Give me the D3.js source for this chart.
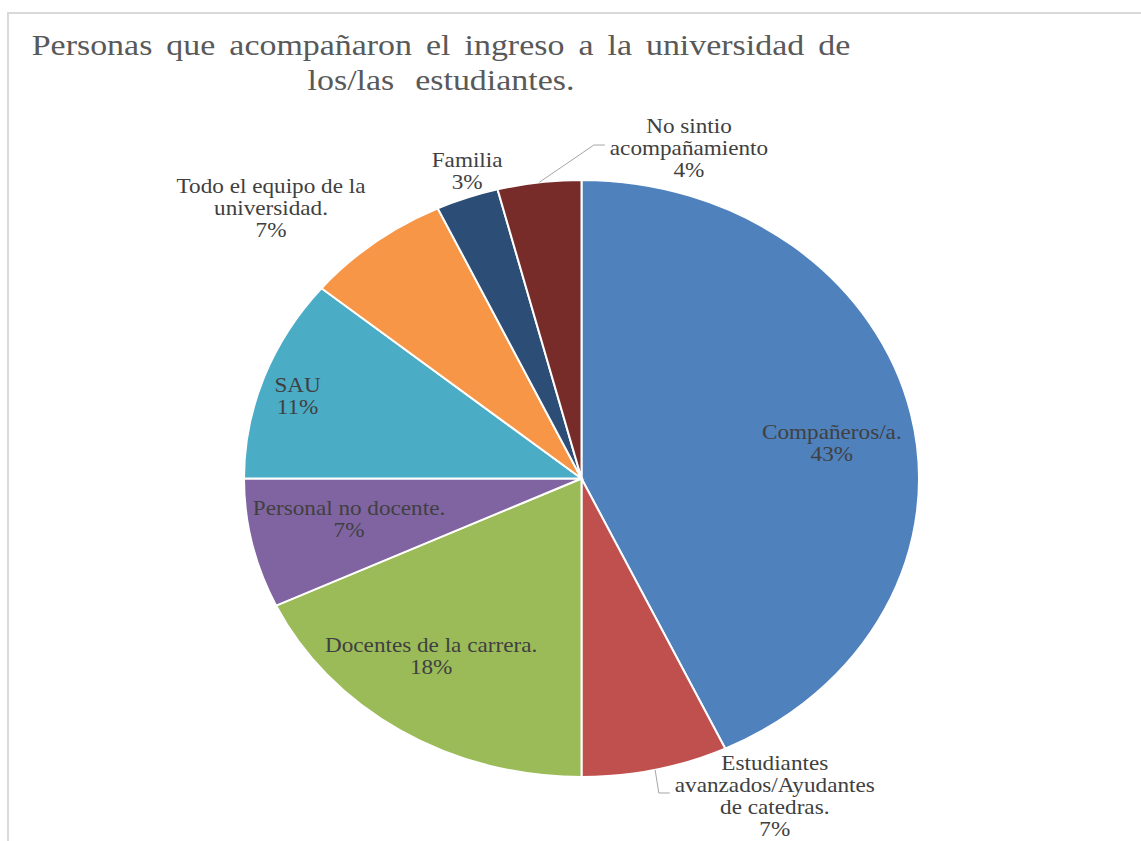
<!DOCTYPE html>
<html>
<head>
<meta charset="utf-8">
<script src="https://cdn.jsdelivr.net/npm/d3@7"></script>
<style>
  html, body { margin: 0; padding: 0; background: #ffffff; }
  svg { display: block; }
  svg text { font-family: "Liberation Serif", "Times New Roman", Times, "DejaVu Serif", serif; }
</style>
</head>
<body>
<svg id="chart" width="1141" height="841"></svg>
<script>
// ---- data ----
const categories = [
  "Compañeros/a.",
  "Estudiantes avanzados/Ayudantes de catedras.",
  "Docentes de la carrera.",
  "Personal no docente.",
  "SAU",
  "Todo el equipo de la universidad.",
  "Familia",
  "No sintio acompañamiento"
];
const values = [43, 7, 18, 7, 11, 7, 3, 4];
const colors = ["#4F81BD", "#C0504D", "#9BBB59", "#8064A2", "#4BACC6", "#F79646", "#2C4D75", "#772C2A"];
const labelLines = [
  ["Compañeros/a."],
  ["Estudiantes", "avanzados/Ayudantes", "de catedras."],
  ["Docentes de la carrera."],
  ["Personal no docente."],
  ["SAU"],
  ["Todo el equipo de la", "universidad."],
  ["Familia"],
  ["No sintio", "acompañamiento"]
];
const titleLines = ["Personas que acompañaron el ingreso a la universidad de", "los/las estudiantes."];

// ---- layout ----
const sx = 1.1307;           // horizontal stretch of the original picture
const cx = 581.5, cy = 478.5, R = 298.5;
const labelPlace = [[0.751, 81.0], [1.208, 151.7], [0.742, 216.9], [0.702, 258.9],
                    [0.885, 288.1], [1.292, 314.6], [1.085, 341.8], [1.152, 16.05]];
const hasLeader = [false, true, false, false, false, false, false, true];
const lineH = 22;

const svg = d3.select("#chart");

// frame (only top and left edges visible)
svg.append("rect")
  .attr("x", 8).attr("y", 13).attr("width", 1400).attr("height", 1000)
  .attr("fill", "none").attr("stroke", "#d9d9d9").attr("stroke-width", 2);

// title
const tg = svg.append("g").attr("transform", `scale(${sx},1)`);
const titleSpacing = [4.9, 11];
titleLines.forEach((t, i) => {
  tg.append("text")
    .attr("x", 441 / sx).attr("y", 55 + i * 35)
    .attr("text-anchor", "middle")
    .attr("font-size", 30)
    .attr("word-spacing", titleSpacing[i])
    .attr("fill", "#595959")
    .text(t);
});

// pie
const g = svg.append("g").attr("transform", `translate(${cx},${cy}) scale(${sx},1)`);
const total = d3.sum(values);
const pie = d3.pie().sort(null).value(d => d)(values);
const arc = d3.arc().innerRadius(0).outerRadius(R);
const edgeArc = d3.arc().innerRadius(R).outerRadius(R);
const pct = d3.format(".0%");

g.selectAll("path.slice").data(pie).join("path")
  .attr("class", "slice")
  .attr("d", arc)
  .attr("fill", (d, i) => colors[i])
  .attr("stroke", "#ffffff")
  .attr("stroke-width", 2)
  .attr("vector-effect", "non-scaling-stroke");

// labels
const labelG = g.append("g");
const boxes = [];
pie.forEach((d, i) => {
  const [rf, deg] = labelPlace[i];
  const a = deg * Math.PI / 180;
  const x = rf * R * Math.sin(a);
  const y = -rf * R * Math.cos(a);
  const lines = labelLines[i].concat([pct(d.value / total)]);
  const n = lines.length;
  const t = labelG.append("text")
    .attr("text-anchor", "middle")
    .attr("font-size", 20.5)
    .attr("fill", "#404040");
  lines.forEach((ln, k) => {
    t.append("tspan")
      .attr("x", x)
      .attr("y", y + (k - (n - 1) / 2) * lineH + 7)
      .text(ln);
  });
  boxes.push({ node: t.node(), cy: y });
});

// leader lines (drawn in screen coordinates)
const lg = svg.append("g");
pie.forEach((d, i) => {
  if (!hasLeader[i]) return;
  const bb = boxes[i].node.getBBox();
  const [ex, ey] = edgeArc.centroid(d);
  const start = [cx + ex * sx, cy + ey];
  const endX = cx + bb.x * sx - 5;
  const yy = cy + boxes[i].cy - 3;
  const pts = [start, [endX - 11, yy], [endX, yy]];
  lg.append("path")
    .attr("d", d3.line()(pts))
    .attr("fill", "none")
    .attr("stroke", "#a6a6a6")
    .attr("stroke-width", 1);
});
</script>
</body>
</html>
